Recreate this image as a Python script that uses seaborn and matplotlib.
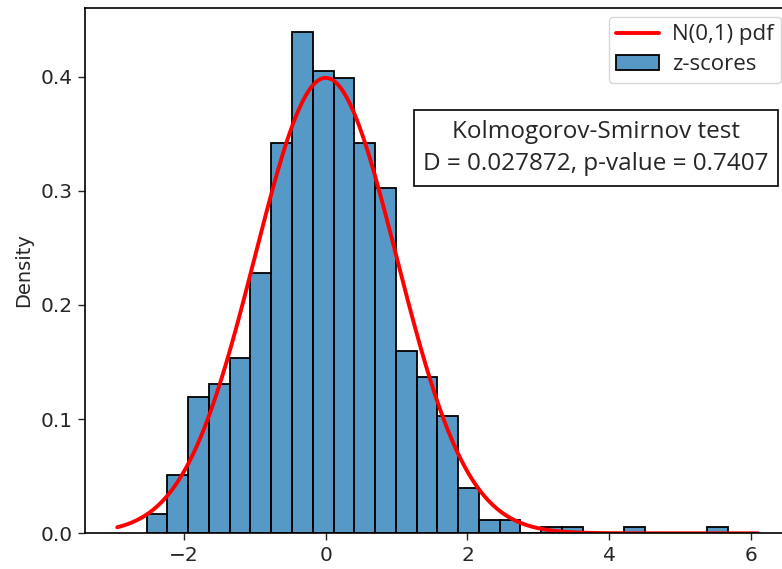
import numpy as np
import pandas as pd
import matplotlib
matplotlib.use("Agg")
import matplotlib.pyplot as plt
import seaborn as sns

# ---- data ----
data_min = -2.525          # left edge of first bin
data_max = 5.674           # right edge of last bin
n_bins = 28
bin_counts = [3, 9, 21, 23, 27, 40, 60, 77, 71, 70, 60, 53, 28, 24,
              18, 7, 2, 2, 0, 1, 1, 0, 0, 1, 0, 0, 0, 1]
curve_lo, curve_hi = -2.94, 6.10
ks_D = 0.027872
ks_p = 0.7407

edges = np.linspace(data_min, data_max, n_bins + 1)
centers = (edges[:-1] + edges[1:]) / 2
df = pd.DataFrame({"z": centers, "w": bin_counts})

xs = np.linspace(curve_lo, curve_hi, 400)
pdf = np.exp(-xs ** 2 / 2) / np.sqrt(2 * np.pi)
curve = pd.DataFrame({"x": xs, "y": pdf})

sns.set_style("ticks")
plt.rcParams["font.family"] = ["DejaVu Sans"]

fig = plt.figure(figsize=(7.82, 5.69), dpi=100)
ax = fig.add_axes([85 / 782, (569 - 533.3) / 569, (790.2 - 85) / 782, (533.3 - 7.7) / 569])

sns.histplot(data=df, x="z", weights="w", bins=list(edges), stat="density",
             color="#1f77b4", alpha=0.75, edgecolor="black", linewidth=1.3,
             label="z-scores", ax=ax)
sns.lineplot(data=curve, x="x", y="y", color="red", linewidth=2.8,
             label="N(0,1) pdf", ax=ax, sort=False)

ax.set_ylim(0, 0.4604)
ax.set_xlim(-3.395, 6.552)
ax.set_xticks([-2, 0, 2, 4, 6])
ax.set_yticks([0.0, 0.1, 0.2, 0.3, 0.4])
ax.tick_params(labelsize=14.5, length=5, width=1, pad=4)
ax.set_xlabel("")
ax.set_ylabel("Density", fontsize=14, family="DejaVu Sans", labelpad=5)
for s in ax.spines.values():
    s.set_linewidth(1.2)
    s.set_color("black")

handles, labels = ax.get_legend_handles_labels()
order = [labels.index("N(0,1) pdf"), labels.index("z-scores")]
ax.legend([handles[i] for i in order], [labels[i] for i in order],
          loc="upper right", prop={"family": "Open Sans", "size": 16},
          handlelength=1.9, handletextpad=0.6, labelspacing=0.4,
          borderpad=0.35, borderaxespad=0.4)

ax.text(0.7246, 0.733,
        "Kolmogorov-Smirnov test\nD = %.6f, p-value = %.4f" % (ks_D, ks_p),
        transform=ax.transAxes, ha="center", va="center",
        family="Open Sans", fontsize=17.5, linespacing=1.45,
        bbox=dict(boxstyle="square,pad=0.4", facecolor="white", edgecolor="black", linewidth=1.2))

fig.savefig("out.png", dpi=100)
